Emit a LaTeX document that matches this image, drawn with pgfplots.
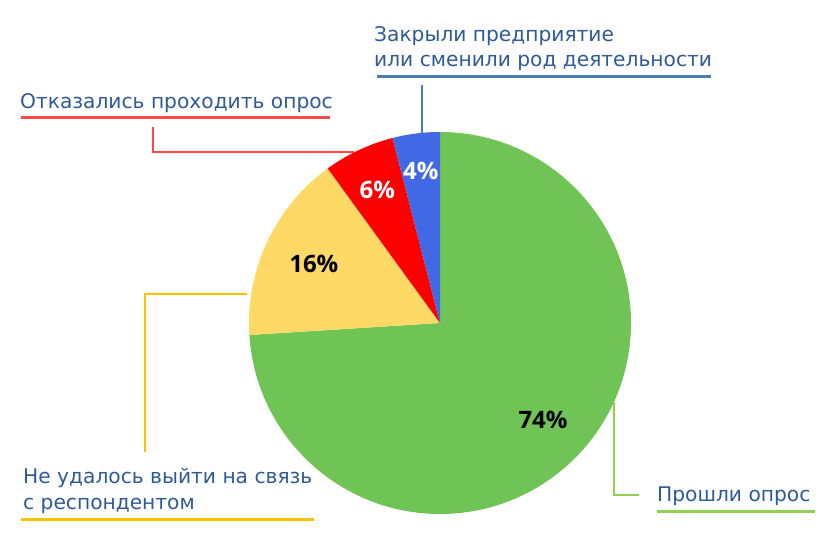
\documentclass[border=0pt]{standalone}
\usepackage{fontspec}
\setmainfont{DejaVu Sans}
\newfontfamily\pctfont{Open Sans}
\usepackage{pgfplots}
\usepackage{pgfplotstable}
\pgfplotsset{compat=1.18}

\definecolor{pgreen}{RGB}{112,196,86}
\definecolor{pyellow}{RGB}{255,217,102}
\definecolor{pred}{RGB}{255,0,0}
\definecolor{pblue}{RGB}{65,105,230}
\definecolor{labtext}{RGB}{46,90,150}
\definecolor{lblue}{RGB}{74,126,187}
\definecolor{lred}{RGB}{255,72,72}
\definecolor{lyellow}{RGB}{255,192,0}
\definecolor{lgreen}{RGB}{146,208,80}

% share of answers, clockwise from 12 o'clock; lr = label radius / pie radius
\pgfplotstableread[col sep=comma]{
value,fillc,textc,lr
74,pgreen,black,0.74
16,pyellow,black,0.73
6,pred,white,0.77
4,pblue,white,0.80
}\piedata

\tikzset{
  pct/.style={font=\pctfont\bfseries\fontsize{24}{28}\selectfont, inner sep=0pt},
  lab/.style={font=\fontsize{20.2}{25}\selectfont, text=labtext, inner sep=0pt, anchor=base west},
}

\begin{document}
\begin{tikzpicture}
\begin{axis}[
    width=830pt, height=553pt, scale only axis,
    xmin=0, xmax=830, ymin=0, ymax=553,
    hide axis, clip=false,
]
\def\cumul{0}
\pgfplotsforeachungrouped \i in {0,...,3} {
    \pgfplotstablegetelem{\i}{value}\of\piedata \let\v\pgfplotsretval
    \pgfplotstablegetelem{\i}{fillc}\of\piedata \let\fc\pgfplotsretval
    \pgfplotstablegetelem{\i}{textc}\of\piedata \let\tc\pgfplotsretval
    \pgfplotstablegetelem{\i}{lr}\of\piedata \let\lr\pgfplotsretval
    \pgfmathsetmacro\aS{90-3.6*\cumul}
    \pgfmathsetmacro\aE{90-3.6*(\cumul+\v)}
    \pgfmathsetmacro\aM{(\aS+\aE)/2}
    \pgfmathsetmacro\rr{191*\lr}
    \edef\cmd{%
        \noexpand\fill[\fc] (axis cs:440,230) -- ++(\aS:191pt)
            arc[start angle=\aS, end angle=\aE, radius=191pt] -- cycle;
        \noexpand\path (axis cs:440,230) ++(\aM:\rr pt)
            node[pct, text=\tc] {\v\%};
    }
    \cmd
    \pgfmathsetmacro\cumul{\cumul+\v}
}

% leader lines
\draw[lblue, line width=3pt] (axis cs:377,476) -- (axis cs:711,476);
\draw[lblue, line width=2pt] (axis cs:421.7,468) -- (axis cs:421.7,420);
\draw[lred, line width=3pt] (axis cs:21,435) -- (axis cs:330,435);
\draw[lred, line width=2pt] (axis cs:152.7,426) -- (axis cs:152.7,401) -- (axis cs:354,401);
\draw[lyellow, line width=3pt] (axis cs:21,33) -- (axis cs:314,33);
\draw[lyellow, line width=2pt] (axis cs:145,101) -- (axis cs:145,259) -- (axis cs:247,259);
\draw[lgreen, line width=3pt] (axis cs:657,41) -- (axis cs:815,41);
\draw[lgreen, line width=2pt] (axis cs:614,151) -- (axis cs:614,58) -- (axis cs:639,58);

% labels
\node[lab] at (axis cs:374,511) {Закрыли предприятие};
\node[lab] at (axis cs:374,486) {или сменили род деятельности};
\node[lab] at (axis cs:20,444) {Отказались проходить опрос};
\node[lab] at (axis cs:23,69) {Не удалось выйти на связь};
\node[lab] at (axis cs:23,43) {с респондентом};
\node[lab] at (axis cs:657,51) {Прошли опрос};
\end{axis}
\pgfresetboundingbox
\path (current axis.south west) rectangle (current axis.north east);
\end{tikzpicture}
\end{document}
